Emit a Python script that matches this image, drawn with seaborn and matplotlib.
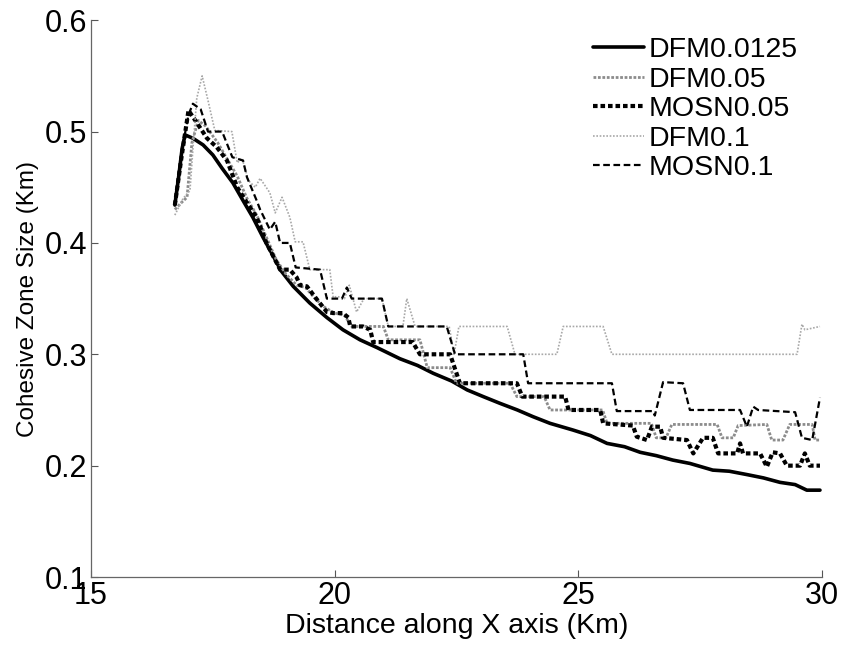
import pandas as pd
import matplotlib
matplotlib.use("Agg")
import matplotlib.pyplot as plt
import seaborn as sns

# DFM0.0125
dfm0125_x = [16.72, 16.80, 16.87, 16.93, 17.09, 17.30, 17.50, 17.69, 17.91, 18.12, 18.32, 18.53,
             18.73, 18.90, 19.15, 19.49, 19.84, 20.17, 20.52, 20.87, 21.34, 21.70, 22.02, 22.40,
             22.72, 23.05, 23.39, 23.75, 24.07, 24.42, 24.89, 25.25, 25.59, 25.95, 26.27, 26.60,
             26.94, 27.29, 27.76, 28.10, 28.46, 28.80, 29.14, 29.45, 29.69, 29.96]
dfm0125_y = [0.434, 0.460, 0.485, 0.497, 0.494, 0.488, 0.479, 0.467, 0.454, 0.438, 0.423, 0.405,
             0.389, 0.375, 0.361, 0.346, 0.333, 0.322, 0.313, 0.306, 0.296, 0.290, 0.283, 0.276,
             0.268, 0.262, 0.256, 0.250, 0.244, 0.238, 0.232, 0.227, 0.220, 0.217, 0.212, 0.209,
             0.205, 0.202, 0.196, 0.195, 0.192, 0.189, 0.185, 0.183, 0.178, 0.178]

# DFM0.05
dfm005_x = [16.72, 16.85, 16.97, 17.07, 17.20, 17.35, 17.60, 17.80, 18.00, 18.20, 18.40, 18.60,
            18.80, 19.00, 19.22, 19.40, 19.60, 19.80, 20.00, 20.20, 20.35, 21.00, 21.10, 21.75,
            21.90, 22.37, 22.50, 23.60, 23.74, 24.30, 24.42, 25.50, 25.59, 26.50, 26.60, 26.80,
            26.92, 27.85, 27.95, 28.18, 28.28, 28.87, 28.97, 29.20, 29.34, 29.80, 29.86, 29.96]
dfm005_y = [0.430, 0.436, 0.441, 0.490, 0.510, 0.505, 0.490, 0.475, 0.460, 0.440, 0.425, 0.405,
            0.385, 0.372, 0.362, 0.360, 0.350, 0.342, 0.337, 0.335, 0.325, 0.325, 0.313, 0.313,
            0.288, 0.288, 0.274, 0.274, 0.262, 0.262, 0.250, 0.250, 0.238, 0.238, 0.225, 0.225,
            0.237, 0.237, 0.225, 0.225, 0.236, 0.237, 0.223, 0.223, 0.237, 0.237, 0.223, 0.223]

# MOSN0.05
mosn005_x = [16.72, 16.85, 17.00, 17.17, 17.38, 17.58, 17.79, 18.00, 18.20, 18.40, 18.60, 18.88,
             19.08, 19.22, 19.29, 19.43, 19.64, 19.84, 19.97, 20.17, 20.28, 20.32, 20.58, 20.73,
             20.79, 21.60, 21.75, 22.37, 22.43, 22.57, 23.74, 23.85, 24.73, 24.80, 25.45, 25.51,
             26.12, 26.20, 26.41, 26.51, 26.68, 26.74, 27.23, 27.36, 27.56, 27.76, 27.87, 28.26,
             28.32, 28.38, 28.73, 28.87, 28.99, 29.14, 29.28, 29.55, 29.65, 29.75, 29.96]
mosn005_y = [0.434, 0.475, 0.519, 0.508, 0.494, 0.486, 0.474, 0.450, 0.436, 0.423, 0.400, 0.376,
             0.376, 0.369, 0.362, 0.361, 0.349, 0.338, 0.337, 0.337, 0.333, 0.325, 0.325, 0.322,
             0.311, 0.311, 0.300, 0.300, 0.292, 0.274, 0.274, 0.262, 0.262, 0.250, 0.250, 0.238,
             0.236, 0.226, 0.223, 0.235, 0.235, 0.225, 0.223, 0.211, 0.225, 0.225, 0.211, 0.211,
             0.220, 0.211, 0.211, 0.199, 0.212, 0.211, 0.200, 0.200, 0.211, 0.200, 0.200]

# DFM0.1
dfm01_x = [16.72, 16.89, 17.03, 17.10, 17.17, 17.28, 17.40, 17.54, 17.89, 18.00, 18.10, 18.23,
           18.37, 18.47, 18.67, 18.78, 18.92, 19.08, 19.19, 19.35, 19.49, 19.90, 19.97, 20.05,
           20.20, 20.30, 20.45, 20.60, 20.97, 21.10, 21.40, 21.48, 21.65, 22.35, 22.45, 22.55,
           23.54, 23.70, 24.56, 24.69, 25.51, 25.69, 29.49, 29.59, 29.65, 29.96]
dfm01_y = [0.425, 0.440, 0.447, 0.490, 0.530, 0.550, 0.528, 0.501, 0.500, 0.472, 0.476, 0.456,
           0.450, 0.458, 0.445, 0.427, 0.441, 0.423, 0.401, 0.401, 0.376, 0.376, 0.351, 0.352,
           0.350, 0.362, 0.338, 0.350, 0.350, 0.325, 0.325, 0.350, 0.325, 0.325, 0.300, 0.325,
           0.325, 0.300, 0.300, 0.325, 0.325, 0.300, 0.300, 0.327, 0.322, 0.325]

# MOSN0.1
mosn01_x = [16.72, 16.85, 17.00, 17.09, 17.25, 17.40, 17.69, 17.90, 18.12, 18.20, 18.40, 18.47,
            18.67, 18.78, 18.88, 19.08, 19.20, 19.70, 19.84, 20.15, 20.25, 20.35, 20.97, 21.10,
            22.30, 22.47, 23.87, 23.97, 25.69, 25.79, 26.53, 26.57, 26.74, 27.15, 27.29, 28.32,
            28.46, 28.59, 28.69, 29.45, 29.59, 29.80, 29.96]
mosn01_y = [0.434, 0.480, 0.515, 0.525, 0.520, 0.500, 0.500, 0.477, 0.474, 0.459, 0.438, 0.430,
            0.412, 0.419, 0.400, 0.400, 0.378, 0.376, 0.350, 0.350, 0.360, 0.350, 0.350, 0.325,
            0.325, 0.300, 0.300, 0.274, 0.274, 0.249, 0.249, 0.245, 0.275, 0.274, 0.250, 0.250,
            0.235, 0.253, 0.250, 0.248, 0.225, 0.223, 0.261]

series = [
    ("DFM0.0125", dfm0125_x, dfm0125_y, dict(color="black", lw=2.6, linestyle="-")),
    ("DFM0.05", dfm005_x, dfm005_y, dict(color="#8c8c8c", lw=2.0, linestyle=(0, (1, 0.6)))),
    ("MOSN0.05", mosn005_x, mosn005_y, dict(color="black", lw=3.0, linestyle=(0, (1.1, 0.7)))),
    ("DFM0.1", dfm01_x, dfm01_y, dict(color="#a8a8a8", lw=1.2, linestyle=(0, (1, 1)))),
    ("MOSN0.1", mosn01_x, mosn01_y, dict(color="black", lw=1.6, linestyle=(0, (3, 1.6)))),
]

sns.set_style("white")
plt.rcParams["font.family"] = ["Liberation Sans", "DejaVu Sans"]
plt.rcParams["text.color"] = "black"
plt.rcParams["axes.labelcolor"] = "black"
plt.rcParams["xtick.color"] = "black"
plt.rcParams["ytick.color"] = "black"

fig = plt.figure(figsize=(8.43, 6.52), dpi=100)
ax = fig.add_axes([0.108, 0.115, 0.867, 0.854])

for name, xs, ys, style in series:
    df = pd.DataFrame({"x": xs, "y": ys})
    sns.lineplot(data=df, x="x", y="y", ax=ax, sort=False, estimator=None,
                 label=name, **style)

ax.set_xlim(15, 30)
ax.set_ylim(0.1, 0.6)
ax.set_xticks([15, 20, 25, 30])
ax.set_yticks([0.1, 0.2, 0.3, 0.4, 0.5, 0.6])
ax.set_xticklabels(["15", "20", "25", "30"])
ax.set_yticklabels(["0.1", "0.2", "0.3", "0.4", "0.5", "0.6"])
ax.tick_params(direction="in", length=5, width=0.8, color="#555555",
               labelcolor="black", labelsize=22, pad=3, left=True, bottom=True)
ax.set_xlabel("Distance along X axis (Km)", fontsize=20.5, labelpad=1)
ax.set_ylabel("Cohesive Zone Size (Km)", fontsize=17.5, labelpad=4)
sns.despine(ax=ax)
for s in ["left", "bottom"]:
    ax.spines[s].set_color("#666666")
    ax.spines[s].set_linewidth(0.9)

ax.legend(loc="upper right", frameon=False, fontsize=20.5, handlelength=1.8,
          handletextpad=0.15, labelspacing=0.12, borderaxespad=0.2,
          bbox_to_anchor=(0.99, 1.0))

fig.savefig("out.png", dpi=100)
plt.close(fig)
